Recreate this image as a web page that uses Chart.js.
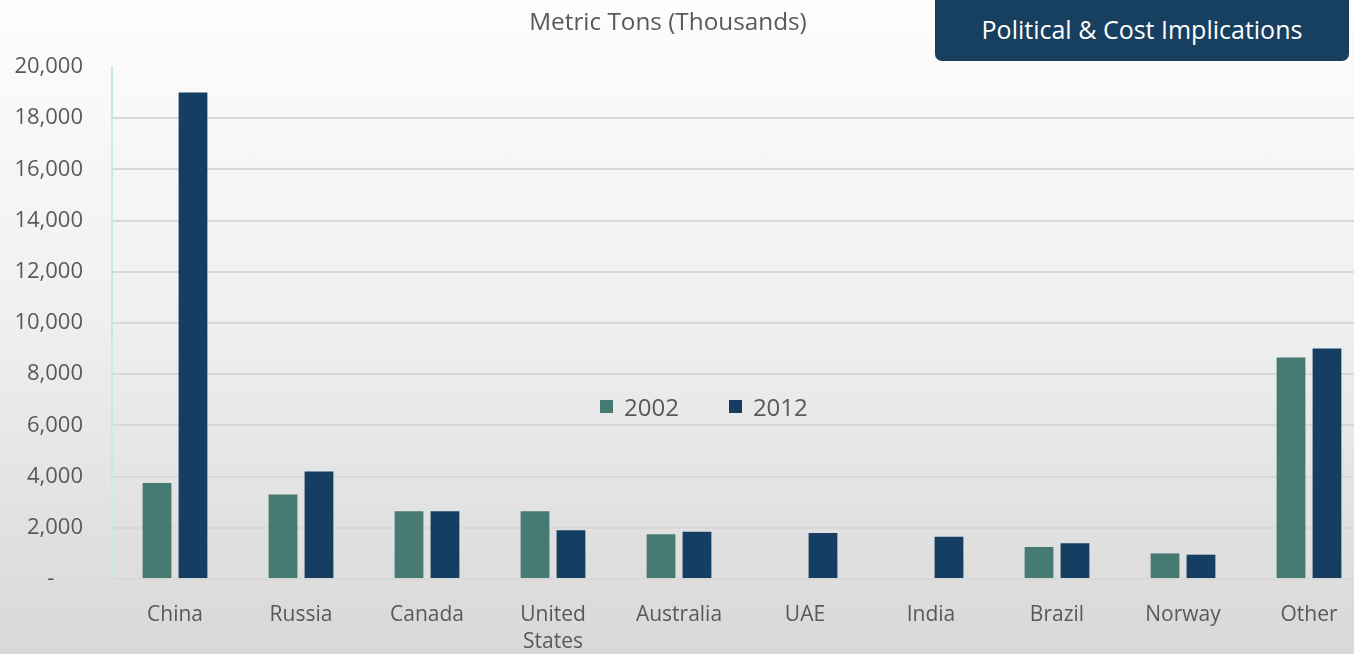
<!DOCTYPE html>
<html>
<head>
<meta charset="utf-8">
<script src="https://cdn.jsdelivr.net/npm/chart.js@4.4.1/dist/chart.umd.min.js"></script>
<style>
  html, body { margin: 0; padding: 0; width: 1354px; height: 654px; overflow: hidden; }
  body { background: linear-gradient(to bottom, #fdfdfd 0%, #f1f1f1 45%, #d8d8d8 100%); font-family: "Open Sans", sans-serif; position: relative; }
  #wrap { position: absolute; left: 0; top: 0; width: 1372px; height: 654px; }
  #title { position: absolute; left: 0; width: 1336px; top: 4px; text-align: center; font-size: 24.3px; color: #595959; }
  #badge { position: absolute; left: 935px; top: -8px; width: 414px; height: 69px; background: #173f5f; border-radius: 7px; color: #fff; font-size: 25px; text-align: center; line-height: 69px; padding-top: 3px; box-sizing: border-box; }
  #legend { position: absolute; left: 600px; top: 390px; display: flex; font-size: 24px; color: #595959; }
  #legend .item { display: flex; align-items: center; margin-right: 50px; }
  #legend .box { width: 13px; height: 13px; margin-right: 11px; }
</style>
</head>
<body>
<div id="wrap"><canvas id="chart" width="1372" height="654"></canvas></div>
<div id="title">Metric Tons (Thousands)</div>
<div id="badge">Political &amp; Cost Implications</div>
<div id="legend"></div>
<script>
// data (thousand metric tons)
const countries = ['China', 'Russia', 'Canada', ['United', 'States'], 'Australia', 'UAE', 'India', 'Brazil', 'Norway', 'Other'];
const values2002 = [3750, 3300, 2650, 2650, 1750, null, null, 1250, 1000, 8650];
const values2012 = [19000, 4200, 2650, 1900, 1850, 1800, 1650, 1400, 950, 9000];
const yTicks = [0, 2000, 4000, 6000, 8000, 10000, 12000, 14000, 16000, 18000, 20000];

const textGray = '#595959';

const chart = new Chart(document.getElementById('chart'), {
    type: 'bar',
    data: {
        labels: countries,
        datasets: [
            { label: '2002', data: values2002, backgroundColor: '#467b74', categoryPercentage: 0.571, barPercentage: 0.8 },
            { label: '2012', data: values2012, backgroundColor: '#143f62', categoryPercentage: 0.571, barPercentage: 0.8 }
        ]
    },
    options: {
        responsive: false,
        animation: false,
        layout: { padding: { top: 67, right: 0, bottom: 0, left: 0 } },
        plugins: { legend: { display: false }, tooltip: { enabled: false } },
        scales: {
            x: {
                grid: { display: false, drawTicks: false },
                border: { display: false },
                ticks: { color: textGray, font: { family: 'Open Sans', size: 21, lineHeight: 1.3 }, padding: 22, maxRotation: 0, autoSkip: false },
                afterFit: (s) => { s.height = 75; }
            },
            y: {
                min: 0,
                max: 20000,
                afterBuildTicks: (s) => { s.ticks = yTicks.map(v => ({ value: v })); },
                grid: {
                    color: (ctx) => ctx.tick && ctx.tick.value === 20000 ? 'rgba(0,0,0,0)' : '#d8d8d8',
                    lineWidth: 2,
                    drawTicks: false
                },
                border: { color: '#cfe5ee', width: 2 },
                ticks: {
                    color: textGray,
                    font: { family: 'Open Sans', size: 22 },
                    padding: 29,
                    callback: (v) => v === 0 ? '-     ' : v.toLocaleString('en-US')
                },
                afterFit: (s) => { s.width = 112; }
            }
        }
    }
});

// legend sitting inside the plot, built from the datasets
const legend = document.getElementById('legend');
chart.data.datasets.forEach(ds => {
    const item = document.createElement('div');
    item.className = 'item';
    item.innerHTML = '<span class="box" style="background:' + ds.backgroundColor + '"></span>' + ds.label;
    legend.appendChild(item);
});
</script>
</body>
</html>
